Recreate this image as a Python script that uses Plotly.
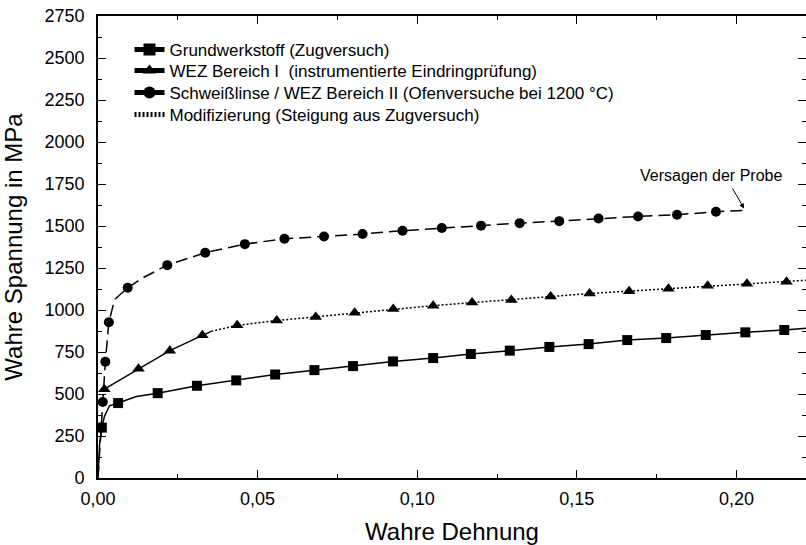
import plotly.graph_objects as go

# ---------------- data ----------------
# Grundwerkstoff (Zugversuch): line points; marker shown where flag = 1
gw_x = [0.0, 0.0005, 0.0012, 0.0020, 0.0036, 0.0063, 0.0120, 0.0187, 0.0310, 0.0433, 0.0555,
        0.0678, 0.0799, 0.0924, 0.1050, 0.1168, 0.1290, 0.1414, 0.1537, 0.1658, 0.1780,
        0.1904, 0.2028, 0.2150, 0.2220]
gw_y = [0, 200, 300, 366, 430, 446, 485, 505, 549, 581, 616,
        642, 666, 694, 714, 738, 758, 780, 797, 821, 833,
        851, 867, 881, 891]
gw_m = [0, 0, 1, 0, 0, 1, 0, 1, 1, 1, 1,
        1, 1, 1, 1, 1, 1, 1, 1, 1, 1,
        1, 1, 1, 0]

# WEZ Bereich I (instrumentierte Eindringprüfung) - measured part
wez_x = [0.0020, 0.0127, 0.0225, 0.0327, 0.0355]
wez_y = [529, 650, 758, 849, 873]
wez_m = [1, 1, 1, 1, 0]

# Modifizierung (Steigung aus Zugversuch) - dotted continuation
mod_x = [0.0355, 0.0436, 0.0560, 0.0682, 0.0804, 0.0925, 0.1050, 0.1172, 0.1295, 0.1418,
         0.1540, 0.1664, 0.1787, 0.1910, 0.2033, 0.2157, 0.2220]
mod_y = [873, 909, 937, 959, 983, 1006, 1026, 1044, 1060, 1080,
         1098, 1112, 1126, 1144, 1156, 1168, 1177]
mod_m = [0, 1, 1, 1, 1, 1, 1, 1, 1, 1,
         1, 1, 1, 1, 1, 1, 0]

# Schweißlinse / WEZ Bereich II (Ofenversuche bei 1200 °C)
sl_x = [0.0, 0.0015, 0.0023, 0.0034, 0.0052, 0.0093, 0.0140, 0.0217, 0.0336, 0.0460,
        0.0584, 0.0708, 0.0829, 0.0954, 0.1077, 0.1200, 0.1321, 0.1445, 0.1568, 0.1692,
        0.1814, 0.1936, 0.2021]
sl_y = [0, 452, 692, 927, 1062, 1132, 1191, 1267, 1341, 1392,
        1424, 1438, 1452, 1472, 1488, 1502, 1517, 1529, 1545, 1557,
        1567, 1585, 1593]
sl_m = [0, 1, 1, 1, 0, 1, 0, 1, 1, 1,
        1, 1, 1, 1, 1, 1, 1, 1, 1, 1,
        1, 1, 0]

names = ["Grundwerkstoff (Zugversuch)",
         "WEZ Bereich I  (instrumentierte Eindringprüfung)",
         "Schweißlinse / WEZ Bereich II (Ofenversuche bei 1200 °C)",
         "Modifizierung (Steigung aus Zugversuch)"]

note_text = "Versagen der Probe"
note_tail = (0.1985, 1733)
note_tip = (0.2024, 1604)
note_pos = (0.1920, 1802)

x_range = [0, 0.2218]
y_range = [0, 2750]

FONT = "Liberation Sans, Arial, sans-serif"
BLACK = "#000000"

W, H = 806, 545
M_L, M_R, M_T, M_B = 98, 0, 16, 67
legend_rows_px = [50, 71, 93, 115]   # anchor of each legend row (pixels from top)


def sizes(flags, s):
    return [s if f else 0 for f in flags]


def mk(symbol, flags, s):
    return dict(symbol=symbol, color=BLACK, size=sizes(flags, s), opacity=1,
                line=dict(width=0, color=BLACK))


fig = go.Figure()

fig.add_trace(go.Scatter(
    x=gw_x, y=gw_y, mode="lines+markers", name=names[0], legend="legend",
    line=dict(color=BLACK, width=1.5),
    marker=mk("square", gw_m, 10),
))
fig.add_trace(go.Scatter(
    x=wez_x, y=wez_y, mode="lines+markers", name=names[1], legend="legend2",
    line=dict(color=BLACK, width=1.5),
    marker=mk("triangle-up", wez_m, 11),
))
fig.add_trace(go.Scatter(
    x=sl_x, y=sl_y, mode="lines+markers", name=names[2], legend="legend3",
    line=dict(color=BLACK, width=1.5, dash="12px,6px"),
    marker=mk("circle", sl_m, 10),
))
fig.add_trace(go.Scatter(
    x=mod_x, y=mod_y, mode="lines", name=names[3], legend="legend4",
    line=dict(color=BLACK, width=1.5, dash="2px,2px"),
))
fig.add_trace(go.Scatter(
    x=mod_x, y=mod_y, mode="markers", showlegend=False,
    marker=mk("triangle-up", mod_m, 11),
))

# annotation: text and arrow
fig.add_annotation(x=note_pos[0], y=note_pos[1], xref="x", yref="y", text=note_text,
                   showarrow=False, font=dict(family=FONT, size=16, color=BLACK))
fig.add_annotation(x=note_tip[0], y=note_tip[1], ax=note_tail[0], ay=note_tail[1],
                   xref="x", yref="y", axref="x", ayref="y", text="",
                   showarrow=True, arrowhead=2, arrowsize=1, arrowwidth=1, arrowcolor=BLACK)

axis_common = dict(
    showline=True, linecolor=BLACK, linewidth=1.6, mirror="ticks",
    ticks="inside", ticklen=8, tickwidth=1.4, tickcolor=BLACK,
    showgrid=False, zeroline=False, automargin=False,
    tickfont=dict(family=FONT, size=18, color=BLACK),
)

fig.update_xaxes(
    range=x_range, dtick=0.05, tick0=0, tickformat=".2f", ticklabelstandoff=4,
    minor=dict(ticks="inside", ticklen=4, tickwidth=1.2, tickcolor=BLACK, dtick=0.025, showgrid=False),
    title=dict(text="Wahre Dehnung", font=dict(family=FONT, size=24, color=BLACK), standoff=16),
    **axis_common,
)
fig.update_yaxes(
    range=y_range, dtick=250, tick0=0, tickformat="d", ticklabelstandoff=8,
    minor=dict(ticks="inside", ticklen=4, tickwidth=1.2, tickcolor=BLACK, dtick=125, showgrid=False),
    title=dict(text="Wahre Spannung in MPa", font=dict(family=FONT, size=24, color=BLACK), standoff=15),
    **axis_common,
)

plot_h = H - M_T - M_B
legend_x = (129.5 - M_L) / (W - M_L - M_R)


def legend_at(row_px):
    return dict(
        x=legend_x, y=(H - M_B - row_px) / plot_h, xanchor="left", yanchor="middle",
        bgcolor="rgba(0,0,0,0)", borderwidth=0,
        font=dict(family=FONT, size=17, color=BLACK),
        itemsizing="constant",
    )


fig.update_layout(
    width=W, height=H,
    margin=dict(l=M_L, r=M_R, t=M_T, b=M_B, pad=0, autoexpand=False),
    paper_bgcolor="white", plot_bgcolor="white",
    separators=",.",
    font=dict(family=FONT, color=BLACK),
    legend=legend_at(legend_rows_px[0]),
    legend2=legend_at(legend_rows_px[1]),
    legend3=legend_at(legend_rows_px[2]),
    legend4=legend_at(legend_rows_px[3]),
)

fig.write_html(
    "out.html",
    config={"displayModeBar": False},
    post_script="document.body.style.margin='0';document.body.style.padding='0';"
                "document.documentElement.style.overflow='hidden';",
)
